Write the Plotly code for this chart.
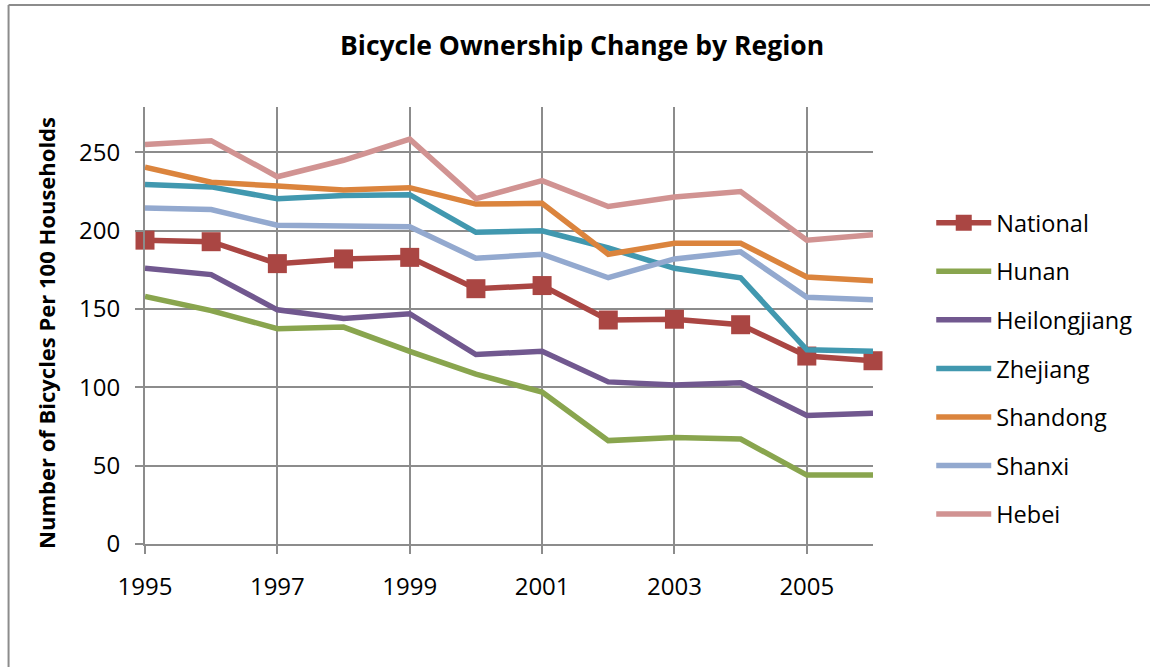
import plotly.graph_objects as go

years = list(range(1995, 2007))
national = [194, 193, 179, 182, 183, 163, 165, 143, 143.5, 140, 120, 117]
hunan = [158, 149, 137.5, 138.5, 123, 108.5, 97, 66, 68, 67, 44, 44]
heilongjiang = [176, 172, 149.5, 144, 147, 121, 123, 103.5, 101.5, 103, 82, 83.5]
zhejiang = [229.5, 228, 220.5, 222.5, 223, 199, 200, 189, 176, 170, 124, 123]
shandong = [240.5, 231, 228.5, 226, 227.5, 217, 217.5, 185, 192, 192, 170.5, 168]
shanxi = [214.5, 213.5, 203.5, 203, 202.5, 182.5, 185, 170, 182, 186.5, 157.5, 156]
hebei = [255, 257.5, 234.5, 245, 258.5, 220.5, 232, 215.5, 221.5, 225, 194, 197.5]

x_tick_vals = [1995, 1997, 1999, 2001, 2003, 2005]
y_tick_vals = [0, 50, 100, 150, 200, 250]

series = [
    ("National", national, "#AA4643", True),
    ("Hunan", hunan, "#89A54E", False),
    ("Heilongjiang", heilongjiang, "#71588F", False),
    ("Zhejiang", zhejiang, "#4198AF", False),
    ("Shandong", shandong, "#DB843D", False),
    ("Shanxi", shanxi, "#93A9CF", False),
    ("Hebei", hebei, "#D19392", False),
]

FONT = "Open Sans"
fig = go.Figure()
for name, vals, color, markers in series:
    fig.add_trace(go.Scatter(
        x=years, y=vals, name=name, legendgroup=name,
        mode="lines+markers" if markers else "lines",
        line=dict(color=color, width=5.5),
        marker=dict(symbol="square", size=19, color=color),
        cliponaxis=False,
    ))

grid = "#8c8c8c"
fig.update_layout(
    width=1150, height=667,
    margin=dict(l=145, r=274, t=107, b=123),
    paper_bgcolor="white", plot_bgcolor="white",
    font=dict(family=FONT, size=24, color="black"),
    showlegend=True,
    legend=dict(
        x=1.08, y=0.785, xanchor="left", yanchor="top",
        font=dict(family=FONT, size=23.5, color="black"),
        traceorder="grouped", tracegroupgap=15, itemwidth=55,
        bgcolor="rgba(0,0,0,0)",
    ),
    xaxis=dict(
        range=[1995, 2006], tickvals=x_tick_vals, ticktext=[str(v) for v in x_tick_vals],
        showgrid=True, gridcolor=grid, gridwidth=2,
        showline=True, linecolor=grid, linewidth=2,
        ticks="outside", ticklen=8, tickwidth=2, tickcolor=grid,
        ticklabelstandoff=12, zeroline=False,
        tickfont=dict(family=FONT, size=24),
    ),
    yaxis=dict(
        range=[0, 279], tickvals=y_tick_vals,
        showgrid=True, gridcolor=grid, gridwidth=2,
        showline=True, linecolor=grid, linewidth=2,
        ticks="outside", ticklen=8, tickwidth=2, tickcolor=grid,
        ticklabelstandoff=10, zeroline=False,
        tickfont=dict(family=FONT, size=24),
    ),
    annotations=[
        dict(text="<b>Bicycle Ownership Change by Region</b>", xref="paper", yref="paper",
             x=0.6005, y=1.142, xanchor="center", yanchor="middle", showarrow=False,
             font=dict(family=FONT, size=26.5, color="black")),
        dict(text="<b>Number of Bicycles Per 100 Households</b>", xref="paper", yref="paper",
             x=-0.136, y=0.483, xanchor="center", yanchor="middle", showarrow=False,
             textangle=-90, font=dict(family=FONT, size=22, color="black")),
    ],
    shapes=[
        dict(type="line", xref="paper", yref="paper",
             x0=(8 - 145) / 731, x1=(1200 - 145) / 731,
             y0=(544 - 5) / 437, y1=(544 - 5) / 437,
             line=dict(color="#8c8c8c", width=2), layer="below"),
        dict(type="line", xref="paper", yref="paper",
             x0=(8 - 145) / 731, x1=(8 - 145) / 731,
             y0=(544 - 700) / 437, y1=(544 - 5) / 437,
             line=dict(color="#8c8c8c", width=2), layer="below"),
    ],
)

fig.write_html(
    "out.html",
    config={"displayModeBar": False},
    post_script="document.body.style.margin='0';document.body.style.overflow='hidden';",
)
